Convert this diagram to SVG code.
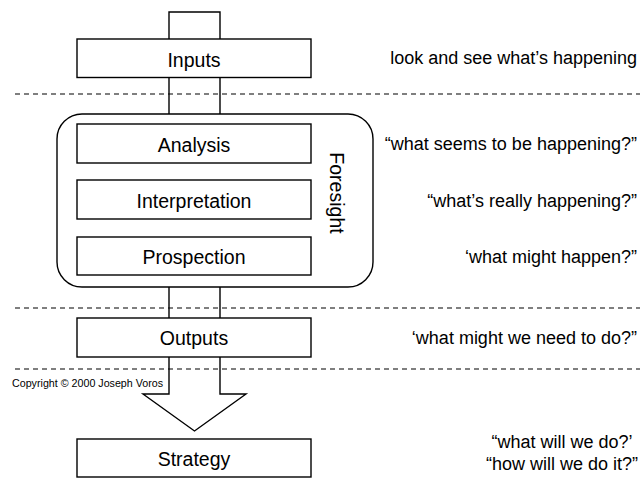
<svg xmlns="http://www.w3.org/2000/svg" width="641" height="478" viewBox="0 0 641 478">
<style>
.box{fill:#fff;stroke:#000;stroke-width:1.4}
.ln{fill:none;stroke:#000;stroke-width:1.4}
.dash{fill:none;stroke:#000;stroke-width:1.2;stroke-dasharray:5 4}
.lbl{font-family:"Liberation Sans",Arial,sans-serif;font-size:19.5px;fill:#000;text-anchor:middle}
.q{font-family:"Liberation Sans",Arial,sans-serif;font-size:18px;fill:#000;text-anchor:end}
.qc{font-family:"Liberation Sans",Arial,sans-serif;font-size:18px;fill:#000;text-anchor:middle}
.cp{font-family:"Liberation Sans",Arial,sans-serif;font-size:10.7px;fill:#000}
</style>
<rect width="641" height="478" fill="#fff"/>
<g id="dividers">
<line class="dash" x1="15" y1="94" x2="640" y2="94"/>
<line class="dash" x1="15" y1="308" x2="640" y2="308"/>
<line class="dash" x1="15" y1="369" x2="640" y2="369"/>
</g>
<g id="connectors">
<path class="ln" d="M169,39 V12 H220 V39"/>
<path class="ln" d="M169,78 V114 M220,78 V114"/>
<path class="ln" d="M169,287 V318 M220,287 V318"/>
<path class="ln" d="M169,357 V394 H143 L194.5,431 L246,394 H220 V357"/>
</g>
<g id="foresight">
<rect class="ln" x="57" y="114" width="316" height="173" rx="25" ry="25"/>
<text class="lbl" transform="translate(330,193) rotate(90)">Foresight</text>
</g>
<g id="inputs">
<rect class="box" x="77" y="39" width="234" height="38.5"/>
<text class="lbl" x="194" y="67">Inputs</text>
</g>
<g id="analysis">
<rect class="box" x="77" y="124" width="234" height="39"/>
<text class="lbl" x="194" y="152">Analysis</text>
</g>
<g id="interpretation">
<rect class="box" x="77" y="180" width="234" height="39"/>
<text class="lbl" x="194" y="208">Interpretation</text>
</g>
<g id="prospection">
<rect class="box" x="77" y="237" width="234" height="38"/>
<text class="lbl" x="194" y="264">Prospection</text>
</g>
<g id="outputs">
<rect class="box" x="77" y="318" width="234" height="39"/>
<text class="lbl" x="194" y="345">Outputs</text>
</g>
<g id="strategy">
<rect class="box" x="77" y="439" width="234" height="38"/>
<text class="lbl" x="194" y="466">Strategy</text>
</g>
<g id="annotations">
<text class="q" x="637" y="64">look and see what’s happening</text>
<text class="q" x="637" y="149.5">“what seems to be happening?”</text>
<text class="q" x="637" y="206.5">“what’s really happening?”</text>
<text class="q" x="637" y="262.5">‘what might happen?”</text>
<text class="q" x="637" y="343.5">‘what might we need to do?”</text>
<text class="qc" x="562" y="448">“what will we do?’</text>
<text class="qc" x="562" y="470">“how will we do it?”</text>
<text class="cp" x="12" y="387">Copyright © 2000 Joseph Voros</text>
</g>
</svg>
